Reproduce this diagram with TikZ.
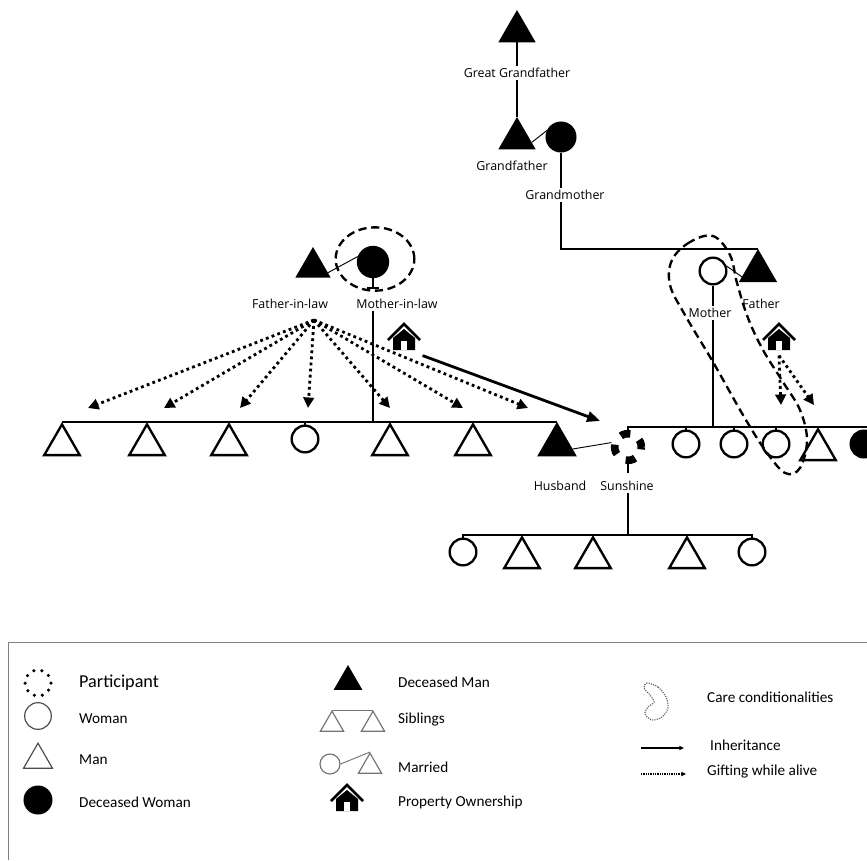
\documentclass[tikz,border=0pt]{standalone}
\usepackage{fontspec}
\newfontfamily\opensans{Open Sans}
\newfontfamily\carlito{Carlito}
\usetikzlibrary{shapes.geometric,arrows.meta}

\tikzset{
  kin/.style={line width=1.6pt},
  wed/.style={line width=0.8pt},
  man/.style={regular polygon, regular polygon sides=3, draw, line width=2pt, minimum size=1.23cm, inner sep=0pt},
  deadman/.style={man, fill=black},
  woman/.style={circle, draw, line width=2pt, minimum size=0.8cm, inner sep=0pt},
  deadwoman/.style={woman, fill=black},
  ptcp/.style={circle, draw, line width=6.5pt, minimum size=0.8cm, inner sep=0pt, dash pattern=on 8.5pt off 9.3pt, dash phase=2pt},
  lbl/.style={font=\opensans\fontsize{10.6}{12}\selectfont, inner sep=2pt},
  gift/.style={line width=2.4pt, dash pattern=on 2.4pt off 2.8pt, -{Triangle[length=9pt,width=9pt]}},
  inherit/.style={line width=2.4pt, -{Triangle[length=11pt,width=9pt]}},
  care/.style={line width=2pt, dash pattern=on 7pt off 4pt},
  estate/.style={minimum size=1.1cm, inner sep=0pt, path picture={
    \begin{scope}[shift={(path picture bounding box.center)}, scale=#1]
      \draw[line width=2.2pt, line join=miter] (-16,3) -- (0,-13) -- (16,3);
      \fill (-11,13) -- (-11,1) -- (0,-8) -- (11,1) -- (11,13) -- cycle;
      \fill[white] (-3,13) rectangle (3,4);
    \end{scope}}},
  estate/.default=1,
  legtext/.style={font=\carlito\fontsize{13}{15}\selectfont, anchor=west, inner sep=0pt},
  lman/.style={regular polygon, regular polygon sides=3, draw=black!70, line width=1pt, minimum size=1cm, inner sep=0pt},
  lwoman/.style={circle, draw=black!70, line width=1pt, minimum size=0.8cm, inner sep=0pt},
  ldots/.style={circle, draw, line width=3pt, line cap=round, dash pattern=on 0pt off 6.97pt, minimum size=0.78cm, inner sep=0pt}
}

\begin{document}
\begin{tikzpicture}[x=0.03cm, y=-0.03cm]
\useasboundingbox (0,0) rectangle (867,860);

% grandparents
\node[deadman, anchor=north, minimum size=1.15cm] (ggf) at (517,10) {};
\node[lbl] (ggfl) at (517,73) {Great Grandfather};
\node[deadman, anchor=north, minimum size=1.15cm] (gf) at (517,117) {};
\node[deadwoman, minimum size=0.86cm] (gm) at (561,137) {};
\node[lbl] (gfl) at (512,166) {Grandfather};
\node[lbl] (gml) at (565,195) {Grandmother};
\draw[kin] (ggf.south) -- (ggfl.north);
\draw[kin] (ggfl.south) -- (gf.north);
\draw[wed] (gf.-15) -- (gm.155);
\coordinate (rend) at (870,427);

% parents
\node[deadman, anchor=north, minimum size=1.18cm] (fa) at (758,249) {};
\node[woman] (mo) at (713,271) {};
\node[lbl] (fal) at (761,304) {Father};
\node[lbl] (mol) at (710,313) {Mother};
\draw[kin] (gm.south) -- (gm.south |- gml.north);
\draw[kin] (gm |- gml.south) |- (fa.north);
\draw[wed] (mo.20) -- (fa.200);
\draw[kin] (mo.south) -- (mo.south |- mol.north);
\draw[kin] (mo |- mol.south) -- (mo |- rend);

% in-laws
\node[deadman, anchor=north, minimum size=1.08cm] (fil) at (313,247) {};
\node[deadwoman, minimum size=0.9cm] (mil) at (373,262) {};
\node[lbl] (fila) at (290,304) {Father-in-law};
\node[lbl] (mila) at (397,304) {Mother-in-law};
\draw[wed] (fil.-20) -- (mil.160);
\draw[kin] (mil.south) -- ++(0,10) coordinate (milbar);
\draw[kin] ([xshift=-0.18cm]milbar) -- ([xshift=0.18cm]milbar);
\draw[care] (375,259) ellipse [x radius=1.18cm, y radius=0.95cm];

% husband and his siblings
\node[man, anchor=north] (s1) at (62,422) {};
\node[man, anchor=north] (s2) at (147,422) {};
\node[man, anchor=north] (s3) at (229,422) {};
\node[woman] (s4) at (305,439) {};
\node[man, anchor=north] (s5) at (390,422) {};
\node[man, anchor=north] (s6) at (473,422) {};
\node[deadman, anchor=north] (hu) at (557,422) {};
\draw[kin] (s1.north) -- (hu.north);
\draw[kin] (s4.north) -- (s4.north |- s1.north);
\draw[kin] (mil |- mila.south) -- (mil |- s1.north);

% gifts from father-in-law
\coordinate (fgift) at (314,320);
\foreach \x [count=\i] in {88,164,240,308,390,463,528} {
  \coordinate (g\i) at (\x,408);
  \draw[gift] (fgift) -- (g\i);
}

% inheritance from mother-in-law
\node[estate] (h1) at (404,337) {};
\coordinate (inh) at (600,421);
\draw[inherit] (h1.south east) -- (inh);

% Sunshine and her siblings
\node[ptcp] (su) at (628,447) {};
\draw[wed] (hu.-15) -- (su.165);
\draw[kin] (su.north) |- (rend);
\node[woman] (r1) at (686,444) {};
\node[woman] (r2) at (734,444) {};
\node[woman] (r3) at (776,444) {};
\node[man, anchor=north] (r4) at (818,427) {};
\node[deadwoman] (r5) at (864,444) {};
\foreach \n in {r1,r2,r3}
  \draw[kin] (\n.north) -- (\n.north |- rend);

% father's house
\node[estate] (h2) at (779,337) {};
\coordinate (g8) at (781,405);
\coordinate (g9) at (814,405);
\draw[gift] (h2.south) -- (g8);
\draw[gift] (h2.south) -- (g9);

% care loop round mother
\draw[care] plot[smooth cycle, tension=0.6] coordinates {(713,236) (690,242) (672,260) (670,285) (685,315) (713,362) (743,415) (765,450) (785,473) (800,468) (807,440) (800,410) (783,382) (763,350) (748,318) (737,283) (730,255)};

% children
\node[lbl] (hul) at (560,486) {Husband};
\node[lbl] (sul) at (627,486) {Sunshine};
\draw[kin] (su.south) -- ++(0,9);
\node[woman] (k1) at (463,552) {};
\node[man, anchor=north] (k2) at (522,535) {};
\node[man, anchor=north] (k3) at (593,535) {};
\node[man, anchor=north] (k4) at (687,535) {};
\node[woman] (k5) at (752,552) {};
\draw[kin] (su |- sul.south) -- (su |- k2.north);
\draw[kin] (k1.north) |- (k5.north |- k2.north) -- (k5.north);

% legend
\draw[gray, line width=0.6pt] (8,860) -- (8,642) -- (867,642);
\node[ldots] (lp) at (38,683) {};
\node[legtext, font=\carlito\fontsize{15.5}{18}\selectfont] (lpt) at (79,683) {Participant};
\node[lwoman] (lw) at (38,716) {};
\node[legtext] (lwt) at (79,719) {Woman};
\node[lman, anchor=north] (lm) at (38,742) {};
\node[legtext] (lmt) at (79,760) {Man};
\node[circle, fill=black, minimum size=0.87cm, inner sep=0pt] (ldw) at (38,800) {};
\node[legtext] (ldwt) at (79,802) {Deceased Woman};

\node[lman, fill=black, draw=black, anchor=north, minimum size=0.92cm] (ldm) at (348,665) {};
\node[legtext] (ldmt) at (398,682) {Deceased Man};
\node[lman, anchor=north, minimum size=0.8cm, draw=black!55] (lsa) at (332,710) {};
\node[lman, anchor=north, minimum size=0.8cm, draw=black!55] (lsb) at (373,710) {};
\draw[black!55, line width=0.8pt] (lsa.north) -- (lsb.north);
\node[legtext] (lsit) at (398,720) {Siblings};
\node[lwoman, minimum size=0.6cm, draw=black!55] (lmw) at (330,764) {};
\node[lman, anchor=north, minimum size=0.8cm, draw=black!55] (lmm) at (370,752) {};
\draw[black!55, line width=0.8pt] (lmw.east) -- (lmm.north);
\node[legtext] (lmat) at (398,767) {Married};
\node[estate=0.72] (lh) at (347,798) {};
\node[legtext] (lht) at (398,802) {Property Ownership};

\draw[black!60, line width=1pt, dash pattern=on 1pt off 1pt] plot[smooth cycle] coordinates {(647,683) (658,687) (666,697) (668,708) (662,717) (652,720) (645,714) (648,707) (654,702) (650,695) (644,688)};
\node[legtext] (lct) at (707,697) {Care conditionalities};
\coordinate (li1) at (641,748);
\coordinate (li2) at (684,748);
\draw[line width=1.5pt, -{Triangle[length=4pt,width=3.5pt]}] (li1) -- (li2);
\node[legtext] (lit) at (710,745) {Inheritance};
\coordinate (lg1) at (641,774);
\coordinate (lg2) at (686,774);
\draw[line width=1pt, dash pattern=on 1pt off 1pt, -{Triangle[length=4pt,width=3.5pt]}] (lg1) -- (lg2);
\node[legtext] (lgt) at (707,772) {Gifting while alive};
\end{tikzpicture}
\end{document}
